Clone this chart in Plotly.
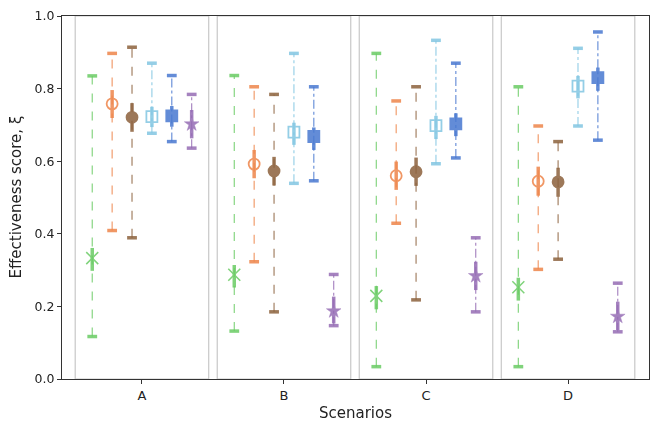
import plotly.graph_objects as go

scenarios = ["A", "B", "C", "D"]
series_names = ["S1", "S2", "S3", "S4", "S5", "S6"]
colors = ["#6acc64", "#ee854a", "#8c613c", "#82c6e2", "#4878d0", "#956cb4"]
symbols = ["x-thin-open", "circle-open", "circle", "square-open", "square", "star"]
dashes = ["dash", "dash", "dash", "dashdot", "dashdot", "dashdot"]

# per series: values for scenarios A, B, C, D
means = [
    [0.333, 0.287, 0.229, 0.253],
    [0.758, 0.592, 0.560, 0.545],
    [0.721, 0.573, 0.571, 0.543],
    [0.723, 0.680, 0.698, 0.807],
    [0.725, 0.668, 0.703, 0.830],
    [0.702, 0.187, 0.284, 0.172],
]
inner_hi = [
    [0.361, 0.314, 0.256, 0.279],
    [0.796, 0.631, 0.599, 0.585],
    [0.760, 0.612, 0.610, 0.582],
    [0.750, 0.706, 0.725, 0.835],
    [0.752, 0.693, 0.732, 0.858],
    [0.741, 0.227, 0.323, 0.213],
]
inner_lo = [
    [0.298, 0.252, 0.192, 0.216],
    [0.719, 0.553, 0.521, 0.505],
    [0.681, 0.533, 0.532, 0.502],
    [0.694, 0.645, 0.661, 0.773],
    [0.695, 0.631, 0.669, 0.794],
    [0.663, 0.153, 0.245, 0.135],
]
maxs = [
    [0.835, 0.836, 0.897, 0.805],
    [0.897, 0.805, 0.766, 0.697],
    [0.914, 0.784, 0.805, 0.654],
    [0.870, 0.897, 0.933, 0.911],
    [0.836, 0.805, 0.870, 0.956],
    [0.784, 0.288, 0.389, 0.264],
]
mins = [
    [0.117, 0.132, 0.034, 0.034],
    [0.409, 0.323, 0.429, 0.302],
    [0.389, 0.185, 0.218, 0.330],
    [0.677, 0.539, 0.593, 0.697],
    [0.654, 0.546, 0.609, 0.658],
    [0.636, 0.147, 0.185, 0.130],
]

n_series = len(series_names)
spacing = 0.14
box_half = 0.47

fig = go.Figure()

# group boxes
for i, _ in enumerate(scenarios):
    fig.add_shape(type="rect", xref="x", yref="y", x0=i - box_half, x1=i + box_half,
                  y0=0, y1=1, line=dict(color="#c8c8c8", width=1.2),
                  fillcolor="rgba(0,0,0,0)", layer="above")

for s in range(n_series):
    xs = [i + (s - (n_series - 1) / 2) * spacing for i in range(len(scenarios))]
    # whiskers
    wx, wy = [], []
    for k, x in enumerate(xs):
        wx += [x, x, None]
        wy += [mins[s][k], maxs[s][k], None]
    fig.add_trace(go.Scatter(x=wx, y=wy, mode="lines", showlegend=False,
                             line=dict(color=colors[s], width=1.2, dash=dashes[s]),
                             opacity=0.8, hoverinfo="skip"))
    # caps
    fig.add_trace(go.Scatter(x=xs + xs, y=mins[s] + maxs[s], mode="markers", showlegend=False,
                             marker=dict(symbol="line-ew-open", size=7, color=colors[s],
                                         line=dict(color=colors[s], width=3.5)),
                             opacity=0.85, hoverinfo="skip"))
    # inner bars + markers
    ep = [inner_hi[s][k] - means[s][k] for k in range(len(xs))]
    em = [means[s][k] - inner_lo[s][k] for k in range(len(xs))]
    mk = dict(symbol=symbols[s], size=11, color=colors[s],
              line=dict(color=colors[s], width=1.8))
    if symbols[s] == "x-thin-open":
        mk["size"] = 12
        mk["line"] = dict(color=colors[s], width=1.5)
    if symbols[s] == "star":
        mk["size"] = 11
        mk["line"] = dict(color=colors[s], width=0.5)
    fig.add_trace(go.Scatter(x=xs, y=means[s], mode="markers", name=series_names[s],
                             showlegend=False,
                             error_y=dict(type="data", array=ep, arrayminus=em,
                                          color=colors[s], thickness=3.5, width=0),
                             marker=mk, opacity=0.85))

fig.update_layout(
    width=665, height=432,
    margin=dict(l=54, r=24, t=8, b=61),
    paper_bgcolor="white", plot_bgcolor="white",
    font=dict(family="DejaVu Sans", size=12, color="#222"),
    showlegend=False,
    annotations=[
        dict(text="Scenarios", xref="paper", yref="paper", x=0.5, y=-0.094,
             xanchor="center", yanchor="middle", showarrow=False, font=dict(size=15)),
        dict(text="Effectiveness score, ξ", xref="paper", yref="paper", x=-0.08, y=0.5,
             xanchor="center", yanchor="middle", textangle=-90, showarrow=False,
             font=dict(size=15)),
    ],
)
fig.update_xaxes(range=[-0.563, 3.57], tickvals=list(range(len(scenarios))), ticktext=scenarios,
                 showgrid=False, zeroline=False, showline=True, linecolor="#333", linewidth=1.2,
                 mirror=True, ticks="outside", ticklen=4, tickcolor="#333", automargin=False,
                 tickfont=dict(size=13))
fig.update_yaxes(range=[0, 1], tickvals=[0, 0.2, 0.4, 0.6, 0.8, 1.0], tickformat=".1f",
                 showgrid=False, zeroline=False, showline=True, linecolor="#333", linewidth=1.2,
                 mirror=True, ticks="outside", ticklen=4, tickcolor="#333", automargin=False,
                 tickfont=dict(size=12.5))

fig.write_html("out.html")
